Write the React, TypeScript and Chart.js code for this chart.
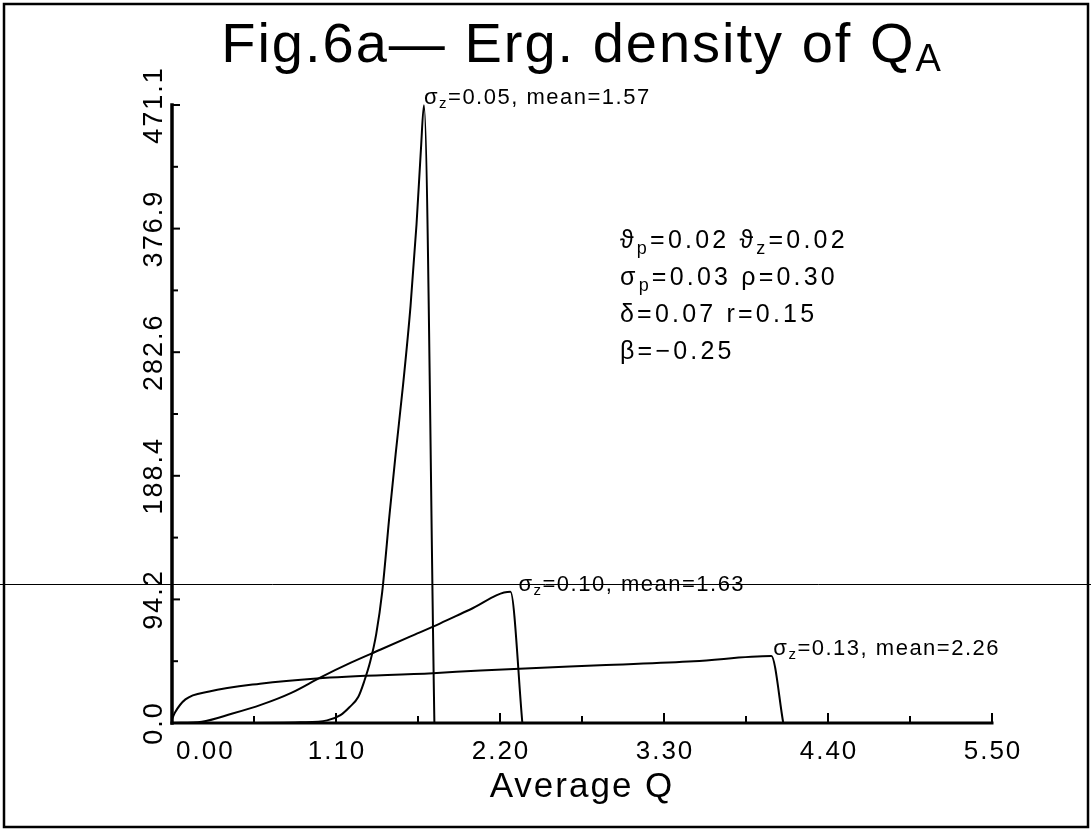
import React, { useEffect, useRef } from "react";
import { Chart, registerables } from "chart.js";

Chart.register(...registerables);

const FONT = '"Liberation Sans", "DejaVu Sans", Arial, sans-serif';

// ---- axis ticks ----
const xTickValues = [0, 1.1, 2.2, 3.3, 4.4, 5.5];
const xTickLabels = ["0.00", "1.10", "2.20", "3.30", "4.40", "5.50"];
const xMinorValues = [0.55, 1.65, 2.75, 3.85, 4.95];
const yTickValues = [0, 94.22, 188.44, 282.66, 376.88, 471.1];
const yTickLabels = ["0.0", "94.2", "188.4", "282.6", "376.9", "471.1"];
const yMinorValues = [47.11, 141.33, 235.55, 329.77, 423.99];

// ---- series (Average Q, density) ----
const qSz005 = [0, 0.5, 0.86, 1.04, 1.13, 1.19, 1.25, 1.29, 1.33, 1.37, 1.41, 1.46, 1.5, 1.55, 1.6, 1.64, 1.67, 1.69, 1.76];
const dSz005 = [0, 0, 0.5, 2, 6, 12, 20, 32, 47, 68, 100, 160, 205, 258, 318, 380, 438, 471, 0];

const qSz010 = [0, 0.2, 0.4, 0.6, 0.8, 1.0, 1.2, 1.4, 1.6, 1.8, 2.0, 2.27, 2.35];
const dSz010 = [0, 1, 7, 14, 23, 35, 46, 56, 66, 76, 86.5, 100, 0];

const qSz013 = [0, 0.02, 0.09, 0.25, 0.59, 0.97, 1.75, 2.07, 2.87, 3.5, 4.02, 4.1];
const dSz013 = [3, 8, 18, 24, 30, 34, 38, 40, 44, 47, 51, 0];

const seriesLabels = [
  [["σ", false], ["z", true], ["=0.05, mean=1.57", false]],
  [["σ", false], ["z", true], ["=0.10, mean=1.63", false]],
  [["σ", false], ["z", true], ["=0.13, mean=2.26", false]],
];

const paramLines = [
  [["ϑ", false], ["p", true], ["=0.02 ", false], ["ϑ", false], ["z", true], ["=0.02", false]],
  [["σ", false], ["p", true], ["=0.03 ρ=0.30", false]],
  [["δ=0.07 r=0.15", false]],
  [["β=−0.25", false]],
];

const titleParts = [["Fig.6a— Erg. density of Q", false], ["A", true]];
const xAxisTitle = "Average Q";

type Part = [string, boolean];

function drawRich(
  ctx: CanvasRenderingContext2D,
  parts: Part[],
  x: number,
  y: number,
  align: "left" | "center",
  size: number,
  subSize: number,
  subDy: number,
  ls: number
) {
  ctx.save();
  ctx.textAlign = "left";
  ctx.textBaseline = "alphabetic";
  (ctx as any).letterSpacing = `${ls}px`;
  let total = 0;
  const widths: number[] = [];
  for (const [t, sub] of parts) {
    ctx.font = `${sub ? subSize : size}px ${FONT}`;
    const w = ctx.measureText(t).width;
    widths.push(w);
    total += w;
  }
  let cx = align === "center" ? x - total / 2 : x;
  parts.forEach(([t, sub], i) => {
    ctx.font = `${sub ? subSize : size}px ${FONT}`;
    ctx.fillText(t, cx, sub ? y + subDy : y);
    cx += widths[i];
  });
  ctx.restore();
}

const decorPlugin = {
  id: "decor",
  beforeDraw(chart: any) {
    const ctx = chart.ctx as CanvasRenderingContext2D;
    ctx.save();
    ctx.fillStyle = "#ffffff";
    ctx.fillRect(0, 0, chart.width, chart.height);
    ctx.restore();
  },
  afterDraw(chart: any) {
    const ctx = chart.ctx as CanvasRenderingContext2D;
    const xs = chart.scales.x;
    const ys = chart.scales.y;
    const area = chart.chartArea;
    ctx.save();
    ctx.fillStyle = "#000";
    ctx.strokeStyle = "#000";

    // outer frame
    ctx.lineWidth = 2.5;
    ctx.strokeRect(4, 4, chart.width - 7, chart.height - 7);

    // axes lines
    const x0 = xs.getPixelForValue(0);
    const y0 = ys.getPixelForValue(0);
    ctx.lineCap = "square";
    ctx.lineWidth = 3.5;
    ctx.beginPath();
    ctx.moveTo(x0, y0);
    ctx.lineTo(x0, ys.getPixelForValue(471.1));
    ctx.stroke();
    ctx.lineWidth = 3;
    ctx.beginPath();
    ctx.moveTo(x0, y0);
    ctx.lineTo(xs.getPixelForValue(5.5), y0);
    ctx.stroke();

    // ticks
    ctx.lineCap = "butt";
    ctx.lineWidth = 2;
    for (const v of yTickValues) {
      const p = ys.getPixelForValue(v);
      ctx.beginPath();
      ctx.moveTo(x0, p);
      ctx.lineTo(x0 + 8, p);
      ctx.stroke();
    }
    for (const v of yMinorValues) {
      const p = ys.getPixelForValue(v);
      ctx.beginPath();
      ctx.moveTo(x0, p);
      ctx.lineTo(x0 + 6, p);
      ctx.stroke();
    }
    for (const v of xTickValues) {
      const p = xs.getPixelForValue(v);
      ctx.beginPath();
      ctx.moveTo(p, y0);
      ctx.lineTo(p, y0 - 10);
      ctx.stroke();
    }
    for (const v of xMinorValues) {
      const p = xs.getPixelForValue(v);
      ctx.beginPath();
      ctx.moveTo(p, y0);
      ctx.lineTo(p, y0 - 7);
      ctx.stroke();
    }

    // x tick labels
    (ctx as any).letterSpacing = "2px";
    ctx.font = `26px ${FONT}`;
    ctx.textBaseline = "alphabetic";
    xTickValues.forEach((v, i) => {
      const p = xs.getPixelForValue(v);
      if (i === 0) {
        ctx.textAlign = "left";
        ctx.fillText(xTickLabels[i], p + 4, y0 + 36);
      } else {
        ctx.textAlign = "center";
        ctx.fillText(xTickLabels[i], p + 1, y0 + 36);
      }
    });

    // y tick labels (rotated)
    ctx.font = `27px ${FONT}`;
    yTickValues.forEach((v, i) => {
      const p = ys.getPixelForValue(v);
      ctx.save();
      ctx.translate(x0 - 10, p);
      ctx.rotate(-Math.PI / 2);
      ctx.textAlign = "center";
      ctx.textBaseline = "alphabetic";
      ctx.fillText(yTickLabels[i], 0, 0);
      ctx.restore();
    });

    // axis title
    (ctx as any).letterSpacing = "2px";
    ctx.font = `35px ${FONT}`;
    ctx.textAlign = "center";
    ctx.fillText(xAxisTitle, (area.left + area.right) / 2, 797);

    // title
    drawRich(ctx, titleParts as Part[], (area.left + area.right) / 2, 62, "center", 56, 38, 9, 2);

    // parameter block
    paramLines.forEach((ln, i) => {
      drawRich(ctx, ln as Part[], 620, 248 + i * 37, "left", 25, 18, 6, 3.2);
    });

    // curve labels at each curve's maximum
    const dx = [0, 8, 2];
    chart.data.datasets.forEach((ds: any, i: number) => {
      let best = 0;
      ds.data.forEach((pt: any, j: number) => {
        if (pt.y > ds.data[best].y) best = j;
      });
      const px = xs.getPixelForValue(ds.data[best].x);
      const py = ys.getPixelForValue(ds.data[best].y);
      drawRich(ctx, seriesLabels[i] as Part[], px + dx[i], py - 1, "left", 22, 15, 4, 1.5);
    });

    // thin horizontal scan line across the page
    ctx.lineWidth = 1;
    ctx.beginPath();
    ctx.moveTo(0, 584.5);
    ctx.lineTo(chart.width, 584.5);
    ctx.stroke();

    ctx.restore();
  },
};

function toPts(xs: number[], ys: number[]) {
  return xs.map((x, i) => ({ x, y: ys[i] }));
}

export default function App() {
  const ref = useRef<HTMLCanvasElement | null>(null);
  useEffect(() => {
    if (!ref.current) return;
    const lineDs = (data: any[]) => ({
      data,
      borderColor: "#000",
      borderWidth: 2,
      pointRadius: 0,
      fill: false,
      tension: 0,
      cubicInterpolationMode: "monotone" as const,
      clip: false as any,
    });
    const chart = new Chart(ref.current, {
      type: "line",
      data: {
        datasets: [
          lineDs(toPts(qSz005, dSz005)),
          lineDs(toPts(qSz010, dSz010)),
          lineDs(toPts(qSz013, dSz013)),
        ],
      },
      options: {
        responsive: false,
        animation: false,
        devicePixelRatio: 1,
        layout: { padding: { left: 172, top: 105, right: 99, bottom: 107 } },
        plugins: { legend: { display: false }, tooltip: { enabled: false }, title: { display: false } },
        scales: {
          x: { type: "linear", min: 0, max: 5.5, display: false },
          y: { type: "linear", min: 0, max: 471.1, display: false },
        },
      },
      plugins: [decorPlugin],
    });
    return () => chart.destroy();
  }, []);
  return (
    <div style={{ position: "absolute", left: 0, top: 0, width: 1091, height: 830 }}>
      <canvas ref={ref} width={1091} height={830} />
    </div>
  );
}
